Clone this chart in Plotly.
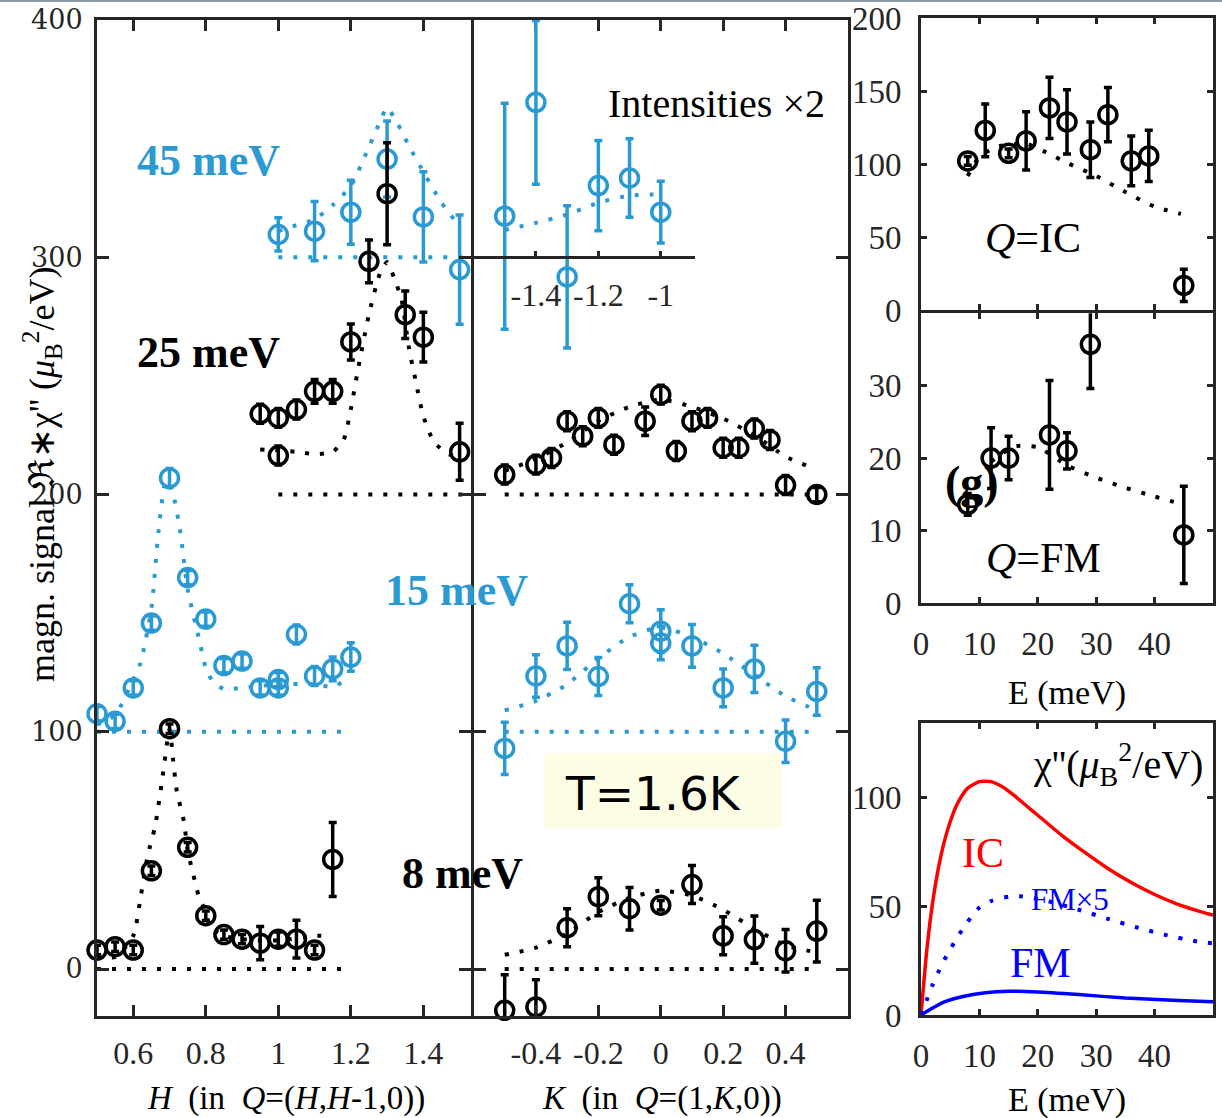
import plotly.graph_objects as go

W, HT = 1222, 1118
def fx(p): return p / W
def fy(p): return 1 - p / HT

BLUE = "#2b9ad2"
BLACK = "#000000"
AXC = "#262626"
SERIF = "Liberation Serif"

# ---------------- Left panel: H scans (offset values) ----------------
h_45 = [1.0, 1.1, 1.2, 1.3, 1.4, 1.5]
i_45 = [309.6, 311, 319, 341.4, 317, 294.8]
e_45 = [7, 12.5, 13.5, 16, 19, 23]
h_45_fit = [1.0, 1.05, 1.1, 1.15, 1.2, 1.24, 1.28, 1.3, 1.33, 1.36, 1.4, 1.45, 1.5]
i_45_fit = [311, 313.5, 316, 322, 330, 343, 357, 363, 356, 347, 336, 323, 313]
h_45_base = [1.0, 1.53]
i_45_base = [300, 300]

h_25 = [0.95, 1.0, 1.0, 1.05, 1.1, 1.15, 1.2, 1.25, 1.3, 1.35, 1.4, 1.5]
i_25 = [234, 232.3, 216.4, 235.8, 243.5, 243.5, 264.3, 298.3, 326.8, 275.8, 266.3, 218]
e_25 = [4, 4, 4, 4, 5, 5, 7.6, 9, 21.5, 10, 10.5, 12]
h_25_fit = [0.95, 1.05, 1.1, 1.15, 1.18, 1.2, 1.22, 1.25, 1.28, 1.3, 1.32, 1.34, 1.36, 1.38, 1.4, 1.43, 1.47, 1.5]
i_25_fit = [219, 218, 217, 218, 223, 236, 253, 276, 293, 298, 291, 282, 262, 247, 233, 222, 217, 216]
h_25_base = [1.0, 1.53]
i_25_base = [200, 200]

h_15 = [0.5, 0.55, 0.6, 0.65, 0.7, 0.75, 0.8, 0.85, 0.9, 0.95, 1.0, 1.0, 1.05, 1.1, 1.15, 1.2]
i_15 = [107.6, 104.4, 118.5, 145.8, 207, 165, 147.5, 127.9, 129.8, 118.5, 122, 118.5, 141, 123.5, 126.5, 131.5]
e_15 = [3, 3, 3, 3, 4, 3, 3, 3, 3, 3, 3, 3, 4, 4, 5, 6]
h_15_fit = [0.5, 0.55, 0.6, 0.62, 0.65, 0.67, 0.69, 0.71, 0.73, 0.75, 0.78, 0.8, 0.82, 0.85, 0.9, 1.0, 1.1, 1.15, 1.2]
i_15_fit = [103, 107, 122, 129, 152, 185, 206, 200, 184, 160, 140, 127, 121, 118, 118.5, 120, 120, 119, 123]
h_15_base = [0.5, 1.2]
i_15_base = [100, 100]

h_8 = [0.5, 0.55, 0.6, 0.65, 0.7, 0.75, 0.8, 0.85, 0.9, 0.95, 1.0, 1.05, 1.1, 1.15]
i_8 = [8, 9.4, 8, 41.4, 101.3, 51.3, 22.5, 14.5, 12.6, 10.9, 12.6, 12.6, 8, 46.2]
e_8 = [2, 2, 2, 2, 2, 2, 2, 2, 2, 7, 3, 8, 2, 15.6]
h_8_fit = [0.5, 0.55, 0.6, 0.62, 0.64, 0.66, 0.68, 0.7, 0.71, 0.72, 0.74, 0.75, 0.77, 0.78, 0.8, 0.81, 0.85, 0.9, 1.0, 1.1, 1.13]
i_8_fit = [6, 5, 14, 30, 48, 60, 80, 101, 88, 75, 62, 50, 37, 31, 24, 18, 14, 12.6, 12, 14, 14]
h_8_base = [0.5, 1.18]
i_8_base = [0, 0]

# ---------------- Middle panel: K scans ----------------
k_45 = [-1.5, -1.4, -1.3, -1.2, -1.1, -1.0]          # inset axis (K-1)
i_45k = [317.3, 365.3, 291.7, 330.2, 333.4, 319]
e_45k = [47.6, 34.5, 30, 19, 16.5, 13]
k_45_fit = [-1.5, -1.4, -1.3, -1.2, -1.1, -1.0]
i_45k_fit = [311.5, 314.5, 318, 323, 326, 326.5]
inset_ticks = [-1.4, -1.2, -1.0]
inset_ticktext = ["-1.4", "-1.2", "-1"]

k_25 = [-0.5, -0.4, -0.35, -0.3, -0.25, -0.2, -0.15, -0.05, 0, 0.05, 0.1, 0.15, 0.2, 0.25, 0.3, 0.35, 0.4, 0.5]
i_25k = [208.4, 212.6, 215.4, 230.9, 224.6, 232.3, 221, 230.9, 242.1, 218.3, 230.9, 232.3, 219.7, 219.7, 227.8, 223, 204, 200]
e_25k = [4, 4, 4, 4, 4, 4, 4, 6, 4, 4, 4, 4, 4, 4, 4, 4, 4, 3]
k_25_fit = [-0.5, -0.4, -0.3, -0.2, -0.1, 0, 0.1, 0.2, 0.3, 0.4, 0.47]
i_25k_fit = [210, 215, 222, 231, 237, 240, 237, 232, 225, 216, 212]
k_25_base = [-0.5, 0.5]
i_25k_base = [200, 200]

k_15 = [-0.5, -0.4, -0.3, -0.2, -0.1, 0, 0, 0.1, 0.2, 0.3, 0.4, 0.5]
i_15k = [93, 123.5, 136.2, 123.3, 154, 142.4, 137.4, 136.2, 118.5, 126.5, 96, 117]
e_15k = [11, 9, 10, 8, 8, 9, 7, 9, 8, 10, 9, 10]
k_15_fit = [-0.5, -0.4, -0.3, -0.2, -0.1, 0, 0.1, 0.2, 0.3, 0.4, 0.5]
i_15k_fit = [109, 113, 120, 131, 140, 144, 140, 133, 124, 115, 109]
k_15_base = [-0.5, 0.5]
i_15k_base = [100, 100]

k_8 = [-0.5, -0.4, -0.3, -0.2, -0.1, 0, 0.1, 0.2, 0.3, 0.4, 0.5]
i_8k = [-17.4, -16, 17.4, 30.5, 25.4, 26.9, 35.6, 14, 12.4, 7.7, 16]
e_8k = [15, 11.5, 8, 8, 9, 2, 8, 8, 10, 9, 13]
k_8_fit = [-0.5, -0.4, -0.3, -0.2, -0.1, 0, 0.1, 0.2, 0.3, 0.4, 0.5]
i_8k_fit = [6, 9, 15, 24, 30, 33, 31, 25, 17, 10, 7]
k_8_base = [-0.5, 0.5]
i_8k_base = [0, 0]

# ---------------- Right panels: energy dependence ----------------
e_ic = [8, 11, 15, 18, 22, 25, 29, 32, 36, 39, 45]
chi_ic = [102.3, 123.2, 107.5, 116, 138.6, 129, 110, 134, 102.3, 105.7, 17]
err_ic = [3, 18, 3, 20, 21, 22, 19, 18.6, 17, 17.6, 11]
e_ic_fit = [8, 10, 13, 18, 21, 25, 30, 35, 40, 44.5]
chi_ic_fit = [92, 105, 112, 114, 109, 101, 92, 81, 71, 66]

e_fm = [8, 12, 15, 22, 25, 29, 45]
chi_fm = [13.6, 20, 20, 23.2, 21, 35.7, 9.4]
err_fm = [1.5, 4.2, 3, 7.5, 2.5, 6.1, 6.7]
e_fm_fit = [12, 16, 20, 25, 30, 35, 40, 44]
chi_fm_fit = [19.5, 21.6, 21.5, 19, 17.3, 15.9, 14.7, 13.8]

e_model_ic = [0, 1, 2, 3, 4, 5, 6, 7, 8, 10, 12, 14, 16, 18, 20, 24, 28, 32, 36, 40, 44, 48, 50]
chi_model_ic = [0, 30, 52, 68, 80, 89, 96, 101, 104.5, 107.5, 107.5, 105, 101, 96.5, 92, 83, 75, 67.5, 61, 55.5, 51, 47.5, 46]
e_model_fm5 = [0, 1, 2, 3, 4, 5, 6, 7, 8, 10, 12, 15, 17, 20, 22, 27, 32, 37, 42, 47, 50]
chi_model_fm5 = [0, 7, 14, 20, 25.5, 30, 35, 39, 43, 49.5, 52.5, 54.5, 54.7, 53.5, 52.3, 48.5, 44.3, 40.3, 36.8, 34, 33]
e_model_fm = [0, 2, 4, 7, 11, 15, 20, 27, 35, 44, 50]
chi_model_fm = [0, 3.2, 6, 8.4, 10.2, 10.9, 10.6, 9.4, 7.8, 6.7, 6.1]

fig = go.Figure()

def pts(x, y, e, color, xa, ya):
    fig.add_trace(go.Scatter(
        x=x, y=y, mode="markers", xaxis=xa, yaxis=ya, cliponaxis=False,
        marker=dict(symbol="circle-open", size=18, color=color, line=dict(width=3.5, color=color)),
        error_y=dict(type="data", array=e, visible=True, color=color, thickness=3.5, width=4),
        showlegend=False, hoverinfo="skip"))

def dotted(x, y, color, xa, ya, smooth=True):
    fig.add_trace(go.Scatter(
        x=x, y=y, mode="lines", xaxis=xa, yaxis=ya,
        line=dict(color=color, width=4, dash="4px,11px", shape="spline" if smooth else "linear",
                  smoothing=0.6),
        showlegend=False, hoverinfo="skip"))

# left panel
dotted(h_45_base, i_45_base, BLUE, "x", "y", False)
dotted(h_45_fit, i_45_fit, BLUE, "x", "y")
dotted(h_25_base, i_25_base, BLACK, "x", "y", False)
dotted(h_25_fit, i_25_fit, BLACK, "x", "y")
dotted(h_15_base, i_15_base, BLUE, "x", "y", False)
dotted(h_15_fit, i_15_fit, BLUE, "x", "y")
dotted(h_8_base, i_8_base, BLACK, "x", "y", False)
dotted(h_8_fit, i_8_fit, BLACK, "x", "y")
pts(h_45, i_45, e_45, BLUE, "x", "y")
pts(h_25, i_25, e_25, BLACK, "x", "y")
pts(h_15, i_15, e_15, BLUE, "x", "y")
pts(h_8, i_8, e_8, BLACK, "x", "y")

# middle panel
dotted(k_25_base, i_25k_base, BLACK, "x2", "y2", False)
dotted(k_25_fit, i_25k_fit, BLACK, "x2", "y2")
dotted(k_15_base, i_15k_base, BLUE, "x2", "y2", False)
dotted(k_15_fit, i_15k_fit, BLUE, "x2", "y2")
dotted(k_8_base, i_8k_base, BLACK, "x2", "y2", False)
dotted(k_8_fit, i_8k_fit, BLACK, "x2", "y2")
pts(k_25, i_25k, e_25k, BLACK, "x2", "y2")
pts(k_15, i_15k, e_15k, BLUE, "x2", "y2")
pts(k_8, i_8k, e_8k, BLACK, "x2", "y2")
# inset (45 meV, K axis shown as K-1)
dotted(k_45_fit, i_45k_fit, BLUE, "x6", "y2")
pts(k_45, i_45k, e_45k, BLUE, "x6", "y2")

# right panels
dotted(e_ic_fit, chi_ic_fit, BLACK, "x3", "y3")
pts(e_ic, chi_ic, err_ic, BLACK, "x3", "y3")
dotted(e_fm_fit, chi_fm_fit, BLACK, "x4", "y4")
pts(e_fm, chi_fm, err_fm, BLACK, "x4", "y4")

fig.add_trace(go.Scatter(x=e_model_ic, y=chi_model_ic, mode="lines", xaxis="x5", yaxis="y5",
                         line=dict(color="#ff0000", width=3.5, shape="spline", smoothing=0.6),
                         showlegend=False, hoverinfo="skip"))
fig.add_trace(go.Scatter(x=e_model_fm5, y=chi_model_fm5, mode="lines", xaxis="x5", yaxis="y5",
                         line=dict(color="#0000ff", width=4, dash="4px,11px", shape="spline", smoothing=0.6),
                         showlegend=False, hoverinfo="skip"))
fig.add_trace(go.Scatter(x=e_model_fm, y=chi_model_fm, mode="lines", xaxis="x5", yaxis="y5",
                         line=dict(color="#0000ff", width=3.5, shape="spline", smoothing=0.6),
                         showlegend=False, hoverinfo="skip"))

base_ax = dict(showline=True, linewidth=3, linecolor=AXC, mirror="ticks", ticks="inside",
               tickwidth=3, tickcolor=AXC, showgrid=False, zeroline=False, automargin=False)

left_tick_font = dict(family="DejaVu Serif", size=27, color=AXC)
x_tick_font = dict(family=SERIF, size=32, color=AXC)
r_tick_font = dict(family=SERIF, size=33, color=AXC)

ydom_main = [fy(1016), fy(20)]
yr_main = [-19.8, 400]
rx_dom = [fx(921), fx(1213)]

# middle panel scale: 1.2 K-units over (848 - 473.5) px
k_px = (848 - 473.5) / 1.2

fig.update_layout(
    width=W, height=HT, margin=dict(l=0, r=0, t=0, b=0), autosize=False,
    plot_bgcolor="rgba(0,0,0,0)", paper_bgcolor="white", showlegend=False,
    xaxis=dict(base_ax, domain=[fx(97), fx(470.5)], range=[0.5, 1.53], anchor="y",
               tickvals=[0.6, 0.8, 1.0, 1.2, 1.4], ticktext=["0.6", "0.8", "1", "1.2", "1.4"],
               ticklen=11, tickfont=x_tick_font, ticklabelstandoff=7),
    yaxis=dict(base_ax, domain=ydom_main, range=yr_main, anchor="x",
               tickvals=[0, 100, 200, 300, 400], ticklen=12, tickfont=left_tick_font,
               ticklabelstandoff=6),
    xaxis2=dict(base_ax, domain=[fx(473.5), fx(848)], range=[-0.6, 0.6], anchor="y2",
                tickvals=[-0.4, -0.2, 0, 0.2, 0.4], ticktext=["-0.4", "-0.2", "0", "0.2", "0.4"],
                ticklen=11, tickfont=x_tick_font, ticklabelstandoff=7),
    yaxis2=dict(base_ax, domain=ydom_main, range=yr_main, anchor="x2",
                tickvals=[0, 100, 200, 300, 400], ticklen=12, showticklabels=False),
    xaxis6=dict(showline=True, linewidth=3, linecolor=AXC, ticks="inside", ticklen=5, tickwidth=3,
                tickcolor=AXC, showgrid=False, zeroline=False, automargin=False,
                domain=[fx(473.5), fx(695)], range=[-1.6, -1.6 + (695 - 473.5) / k_px],
                anchor="free", position=fy(257), tickvals=inset_ticks, ticktext=inset_ticktext,
                tickfont=x_tick_font, ticklabelstandoff=9),
    xaxis3=dict(base_ax, domain=rx_dom, range=[0, 50], anchor="y3", tickvals=[0, 10, 20, 30, 40],
                ticklen=6, showticklabels=False),
    yaxis3=dict(base_ax, domain=[fy(310.2), fy(18.3)], range=[0, 200], anchor="x3",
                tickvals=[0, 50, 100, 150, 200], ticklen=6, tickfont=r_tick_font, ticklabelstandoff=10),
    xaxis4=dict(base_ax, domain=rx_dom, range=[0, 50], anchor="y4", tickvals=[0, 10, 20, 30, 40],
                ticklen=6, tickfont=r_tick_font, ticklabelstandoff=9),
    yaxis4=dict(base_ax, domain=[fy(603), fy(313.2)], range=[0, 40], anchor="x4",
                tickvals=[0, 10, 20, 30], ticklen=6, tickfont=r_tick_font, ticklabelstandoff=10),
    xaxis5=dict(base_ax, domain=rx_dom, range=[0, 50], anchor="y5", tickvals=[0, 10, 20, 30, 40],
                ticklen=6, tickfont=r_tick_font, ticklabelstandoff=9),
    yaxis5=dict(base_ax, domain=[fy(1015), fy(723)], range=[0, 134.5], anchor="x5",
                tickvals=[0, 50, 100], ticklen=6, tickfont=r_tick_font, ticklabelstandoff=10),
)

# T=1.6K box
fig.add_shape(type="rect", xref="paper", yref="paper", x0=fx(544), x1=fx(782), y0=fy(828), y1=fy(753),
              fillcolor="#fdfde6", line=dict(width=0), layer="below")
# thin border line at the very top of the picture
fig.add_shape(type="line", xref="paper", yref="paper", x0=0, x1=1, y0=fy(1), y1=fy(1),
              line=dict(color="#8a98a6", width=2))

def ann(text, xp, yp, size, color=BLACK, family=SERIF, angle=0, xanchor="center"):
    fig.add_annotation(text=text, x=fx(xp), y=fy(yp), xref="paper", yref="paper", showarrow=False,
                       xanchor=xanchor, yanchor="middle", textangle=angle,
                       font=dict(family=family, size=size, color=color))

ann("<b>45 meV</b>", 208, 160, 44, BLUE)
ann("<b>25 meV</b>", 208, 352, 44, BLACK)
ann("<b>15 meV</b>", 456, 590, 44, BLUE)
ann("<b>8 meV</b>", 462, 873, 44, BLACK)
ann("Intensities \u00d72", 716, 104, 40)
ann("T=1.6K", 653, 793, 47, BLACK, "DejaVu Sans")
ann("<i>Q</i>=IC", 1033, 238, 42)
ann("<i>Q</i>=FM", 1043, 558, 42)
ann("<b>(g)</b>", 972, 482, 46)
ann("\u03c7''(<i>\u03bc</i><sub>B</sub><sup>2</sup>/eV)", 1118, 764, 40)
ann("IC", 983, 853, 42, "#ff0000")
ann("FM\u00d75", 1070, 899, 31, "#0000ff")
ann("FM", 1040, 963, 42, "#0000ff")
ann("<i>H</i>  (in  <i>Q</i>=(<i>H</i>,<i>H</i>-1,0))", 286, 1098, 33)
ann("<i>K</i>  (in  <i>Q</i>=(1,<i>K</i>,0))", 662, 1098, 33)
ann("E (meV)", 1067, 693, 34)
ann("E (meV)", 1067, 1100, 34)
ann("magn. signal \u211c\u2217\u03c7'' (<i>\u03bc</i><sub>B</sub><sup>2</sup>/eV)", 42, 475, 36, angle=-90)

fig.write_html("out.html")
